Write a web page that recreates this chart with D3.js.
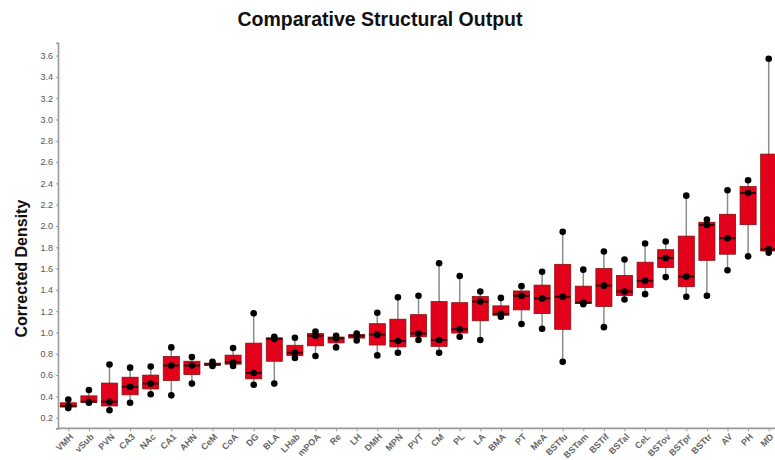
<!DOCTYPE html>
<html>
<head>
<meta charset="utf-8">
<script src="https://cdn.jsdelivr.net/npm/d3@7"></script>
<style>
  html, body { margin: 0; padding: 0; background: #fff; }
  svg { display: block; font-family: "Liberation Sans", Arial, sans-serif; }
</style>
</head>
<body>
<svg id="chart" width="775" height="460"></svg>
<script>
const categories = ["VMH","vSub","PVN","CA3","NAc","CA1","AHN","CeM","CoA","DG","BLA","LHab","mPOA","Re","LH","DMH","MPN","PVT","CM","PL","LA","BMA","PT","MeA","BSTfu","BSTam","BSTif","BSTal","CeL","BSTov","BSTpr","BSTtr","AV","PH","MD"];
const obsLow  = [0.29,0.34,0.27,0.34,0.42,0.41,0.52,0.685,0.685,0.51,0.52,0.76,0.78,0.86,0.925,0.785,0.81,0.93,0.81,0.96,0.93,1.148,1.08,1.035,0.725,1.265,1.05,1.31,1.36,1.52,1.335,1.345,1.585,1.715,1.75];
const obsMid  = [0.31,0.35,0.35,0.49,0.52,0.69,0.69,0.70,0.72,0.62,0.94,0.81,0.97,0.945,0.97,0.98,0.92,0.99,0.93,1.03,1.29,1.175,1.345,1.32,1.335,1.28,1.44,1.385,1.485,1.70,1.525,2.01,1.885,2.31,1.78];
const obsHigh = [0.37,0.46,0.70,0.67,0.68,0.86,0.77,0.725,0.855,1.18,0.96,0.95,1.01,0.97,0.99,1.185,1.33,1.345,1.65,1.53,1.385,1.325,1.435,1.57,1.945,1.59,1.76,1.685,1.835,1.855,2.285,2.06,2.335,2.43,3.57];
const yTicks = [0.2,0.4,0.6,0.8,1.0,1.2,1.4,1.6,1.8,2.0,2.2,2.4,2.6,2.8,3.0,3.2,3.4,3.6];
const titleText = "Comparative Structural Output";
const yLabelText = "Corrected Density";

// ---- build stats ----
const rows = categories.map((c, i) => {
  const v = [obsLow[i], obsMid[i], obsHigh[i]].sort(d3.ascending);
  return {
    name: c, values: v,
    min: d3.min(v), max: d3.max(v),
    q1: d3.quantile(v, 0.25), med: d3.quantile(v, 0.5), q3: d3.quantile(v, 0.75)
  };
});

const svg = d3.select("#chart");
const plotLeft = 58, plotBottom = 428.35, plotTop = 42.8;
const x = d3.scalePoint().domain(categories).range([plotLeft, plotLeft + 721]).padding(0.5);
const step = x.step();
const boxW = step * 0.78;
const y = d3.scaleLinear().domain([0.1, 3.72]).range([plotBottom, plotTop]);

svg.append("rect").attr("width", 775).attr("height", 460).attr("fill", "#fff");

// title
svg.append("text").attr("x", 380).attr("y", 26).attr("text-anchor", "middle")
  .attr("font-size", 19.5).attr("font-weight", "bold").attr("fill", "#111")
  .text(titleText);

// y label
svg.append("text").attr("transform", `translate(27,${y(1.6)}) rotate(-90)`)
  .attr("text-anchor", "middle").attr("font-size", 16).attr("font-weight", "bold")
  .attr("fill", "#111").text(yLabelText);

// y axis
const yAxis = d3.axisLeft(y).tickValues(yTicks).tickFormat(d3.format(".1f")).tickSize(2).tickPadding(3);
const gy = svg.append("g").attr("transform", `translate(${plotLeft},0)`).call(yAxis);
gy.select(".domain").attr("stroke", "#9a9a9a").attr("stroke-width", 1.6);
gy.selectAll(".tick line").attr("stroke", "#9a9a9a");
gy.selectAll(".tick text").attr("font-size", 9).attr("fill", "#555").attr("font-family", "Liberation Sans, Arial, sans-serif");

// x axis
const xAxis = d3.axisBottom(x).tickSize(3).tickPadding(2).tickSizeOuter(0);
const gx = svg.append("g").attr("transform", `translate(0,${plotBottom})`).call(xAxis);
gx.select(".domain").attr("stroke", "#9a9a9a").attr("stroke-width", 1.6)
  .attr("d", `M${plotLeft},0H${plotLeft + 721}`);
gx.selectAll(".tick line").attr("stroke", "#9a9a9a");
gx.selectAll(".tick text")
  .attr("font-size", 9).attr("font-weight", "bold").attr("fill", "#666")
  .attr("font-family", "Liberation Sans, Arial, sans-serif")
  .attr("text-anchor", "end").attr("dy", null).attr("y", 0)
  .attr("transform", "translate(5,9) rotate(-45)");

// boxes
const g = svg.append("g");
const item = g.selectAll("g.box").data(rows).join("g").attr("class", "box");

item.append("line")
  .attr("x1", d => x(d.name)).attr("x2", d => x(d.name))
  .attr("y1", d => y(d.max)).attr("y2", d => y(d.min))
  .attr("stroke", "#8c8c8c").attr("stroke-width", 1.5);

item.append("rect")
  .attr("x", d => x(d.name) - boxW / 2).attr("width", boxW)
  .attr("y", d => y(d.q3)).attr("height", d => Math.max(1, y(d.q1) - y(d.q3)))
  .attr("fill", "#e3001b").attr("stroke", "#8a1010").attr("stroke-width", 0.8);

item.append("line")
  .attr("x1", d => x(d.name) - boxW / 2).attr("x2", d => x(d.name) + boxW / 2)
  .attr("y1", d => y(d.med)).attr("y2", d => y(d.med))
  .attr("stroke", "#3b0a0a").attr("stroke-width", 2);

item.selectAll("circle").data(d => d.values.map(v => ({name: d.name, v})))
  .join("circle")
  .attr("cx", d => x(d.name)).attr("cy", d => y(d.v)).attr("r", 3.3)
  .attr("fill", "#000");
</script>
</body>
</html>
